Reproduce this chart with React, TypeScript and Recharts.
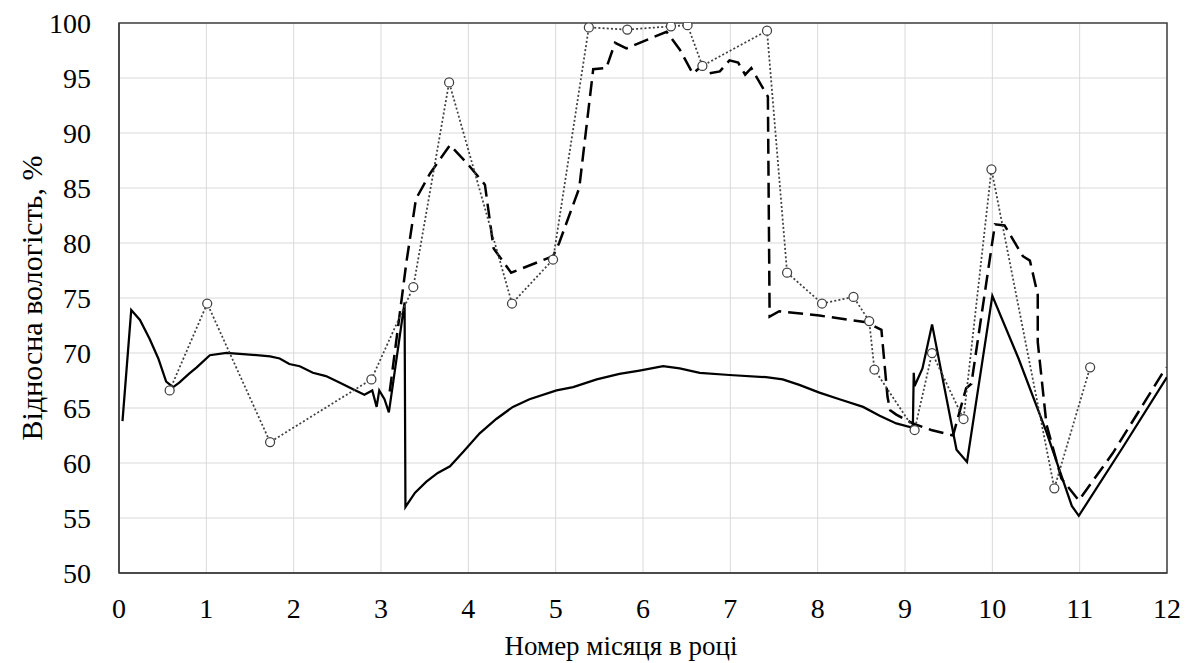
import React from 'react';
import { LineChart, Line, XAxis, YAxis, CartesianGrid, ReferenceArea } from 'recharts';

// month number (x) and relative humidity, % (y)
const solidSeries: [number, number][] = [
  [0.04, 63.8], [0.14, 73.9], [0.24, 73.0], [0.35, 71.3], [0.45, 69.5], [0.54, 67.4],
  [0.62, 66.9], [0.69, 67.3], [0.8, 68.1], [0.89, 68.7], [1.04, 69.8], [1.23, 70.0],
  [1.42, 69.9], [1.73, 69.7], [1.84, 69.5], [1.95, 69.0], [2.07, 68.8], [2.22, 68.2],
  [2.37, 67.9], [2.53, 67.3], [2.68, 66.7], [2.81, 66.2], [2.9, 66.6], [2.95, 65.1],
  [2.98, 66.6], [3.04, 65.8], [3.09, 64.6], [3.13, 66.8], [3.27, 74.6], [3.28, 56.0],
  [3.39, 57.3], [3.52, 58.3], [3.65, 59.1], [3.79, 59.7], [3.94, 61.0], [4.13, 62.7],
  [4.32, 64.0], [4.51, 65.1], [4.7, 65.8], [5.01, 66.6], [5.2, 66.9], [5.47, 67.6],
  [5.73, 68.1], [5.96, 68.4], [6.23, 68.8], [6.42, 68.6], [6.65, 68.2], [6.99, 68.0],
  [7.41, 67.8], [7.6, 67.6], [7.79, 67.1], [8.02, 66.4], [8.25, 65.8], [8.52, 65.1],
  [8.71, 64.3], [8.9, 63.6], [9.09, 63.2], [9.1, 68.2], [9.11, 67.0], [9.2, 68.6],
  [9.31, 72.6], [9.59, 61.2], [9.71, 60.1], [10.0, 75.2], [10.3, 69.5], [10.62, 62.8],
  [10.91, 56.1], [10.99, 55.2], [11.5, 61.5], [12.0, 67.8],
];

const dashedSeries: [number, number][] = [
  [3.1, 66.5], [3.29, 78.2], [3.4, 84.0], [3.56, 86.3], [3.79, 88.9], [3.98, 87.3],
  [4.19, 85.3], [4.29, 79.5], [4.49, 77.3], [4.97, 78.8], [5.04, 80.0], [5.27, 85.0],
  [5.43, 95.8], [5.58, 95.9], [5.68, 98.2], [5.81, 97.7], [6.27, 99.2], [6.42, 97.6],
  [6.57, 95.4], [6.69, 96.2], [6.74, 95.4], [6.88, 95.6], [6.99, 96.6], [7.09, 96.4],
  [7.17, 95.3], [7.24, 95.9], [7.43, 93.3], [7.45, 73.3], [7.56, 73.8], [8.02, 73.4],
  [8.56, 72.8], [8.73, 72.1], [8.8, 66.0], [8.83, 64.8], [8.9, 64.4], [9.09, 63.6],
  [9.3, 63.0], [9.55, 62.5], [9.7, 66.8], [9.76, 67.2], [10.03, 81.7], [10.14, 81.6],
  [10.35, 78.8], [10.43, 78.4], [10.52, 75.3], [10.52, 71.0], [10.62, 63.5], [10.79, 58.6],
  [10.99, 56.6], [11.38, 60.9], [11.99, 68.7],
];

const dottedSeries: [number, number][] = [
  [0.58, 66.6], [1.01, 74.5], [1.73, 61.9], [2.89, 67.6], [3.37, 76.0], [3.78, 94.6],
  [4.5, 74.5], [4.97, 78.5], [5.38, 99.6], [5.82, 99.4], [6.32, 99.7], [6.51, 99.8],
  [6.68, 96.1], [7.42, 99.3], [7.65, 77.3], [8.05, 74.5], [8.41, 75.1], [8.59, 72.9],
  [8.65, 68.5], [9.11, 63.0], [9.31, 70.0], [9.67, 64.0], [9.99, 86.7], [10.71, 57.7],
  [11.12, 68.7],
];

const xTicks = [0, 1, 2, 3, 4, 5, 6, 7, 8, 9, 10, 11, 12];
const yTicks = [50, 55, 60, 65, 70, 75, 80, 85, 90, 95, 100];
const xTitle = 'Номер місяця в році';
const yTitle = 'Відносна вологість, %';

const toPoints = (s: [number, number][]) => s.map(([x, y]) => ({ x, y }));

const serif = 'Liberation Serif';

// recharts' own tick text came out sans, so draw ticks and titles as plain svg text
const XTick = ({ x, y, payload }: any) => (
  <text x={x} y={y} dy="0.71em" textAnchor="middle" fontFamily={serif} fontSize={28} fill="#000">
    {payload.value}
  </text>
);

const YTick = ({ x, y, payload }: any) => (
  <text x={x} y={y} dy="0.35em" textAnchor="end" fontFamily={serif} fontSize={28} fill="#000">
    {payload.value}
  </text>
);

const XTitle = ({ viewBox }: any) => (
  <text
    x={viewBox.x + viewBox.width / 2 - 22}
    y={viewBox.y + viewBox.height - 8}
    textAnchor="middle"
    fontFamily={serif}
    fontSize={27}
    fill="#000"
  >
    {xTitle}
  </text>
);

const YTitle = ({ viewBox }: any) => {
  const cx = viewBox.x + 31;
  const cy = viewBox.y + viewBox.height / 2;
  return (
    <text
      x={cx}
      y={cy}
      dy="0.35em"
      textAnchor="middle"
      transform={`rotate(-90 ${cx} ${cy})`}
      fontFamily={serif}
      fontSize={30}
      fill="#000"
    >
      {yTitle}
    </text>
  );
};

export default function App() {
  return (
    <div style={{ position: 'absolute', left: 0, top: 0, background: '#fff' }}>
      <LineChart width={1185} height={663} margin={{ top: 23, right: 18, bottom: 0, left: 0 }}>
        <CartesianGrid stroke="#d9d9d9" strokeWidth={1} />
        <XAxis
          type="number"
          dataKey="x"
          domain={[0, 12]}
          ticks={xTicks}
          height={90}
          tickLine={false}
          tickSize={0}
          tickMargin={25}
          axisLine={{ stroke: '#404040', strokeWidth: 1.5 }}
          tick={<XTick />}
          allowDataOverflow
          label={<XTitle />}
        />
        <YAxis
          type="number"
          domain={[50, 100]}
          ticks={yTicks}
          width={119}
          tickLine={false}
          tickSize={0}
          tickMargin={28}
          axisLine={{ stroke: '#404040', strokeWidth: 1.5 }}
          tick={<YTick />}
          allowDataOverflow
          label={<YTitle />}
        />
        <ReferenceArea x1={0} x2={12} y1={50} y2={100} fill="none" stroke="#404040" strokeWidth={1.5} />
        <Line
          data={toPoints(solidSeries)}
          dataKey="y"
          type="linear"
          stroke="#000"
          strokeWidth={2.25}
          dot={false}
          isAnimationActive={false}
        />
        <Line
          data={toPoints(dashedSeries)}
          dataKey="y"
          type="linear"
          stroke="#000"
          strokeWidth={2.5}
          strokeDasharray="15 7"
          dot={false}
          isAnimationActive={false}
        />
        <Line
          data={toPoints(dottedSeries)}
          dataKey="y"
          type="linear"
          stroke="#404040"
          strokeWidth={1.75}
          strokeDasharray="2 2.2"
          dot={{ r: 4.5, fill: '#fff', stroke: '#404040', strokeWidth: 1.25, strokeDasharray: 'none' }}
          isAnimationActive={false}
        />
      </LineChart>
    </div>
  );
}
